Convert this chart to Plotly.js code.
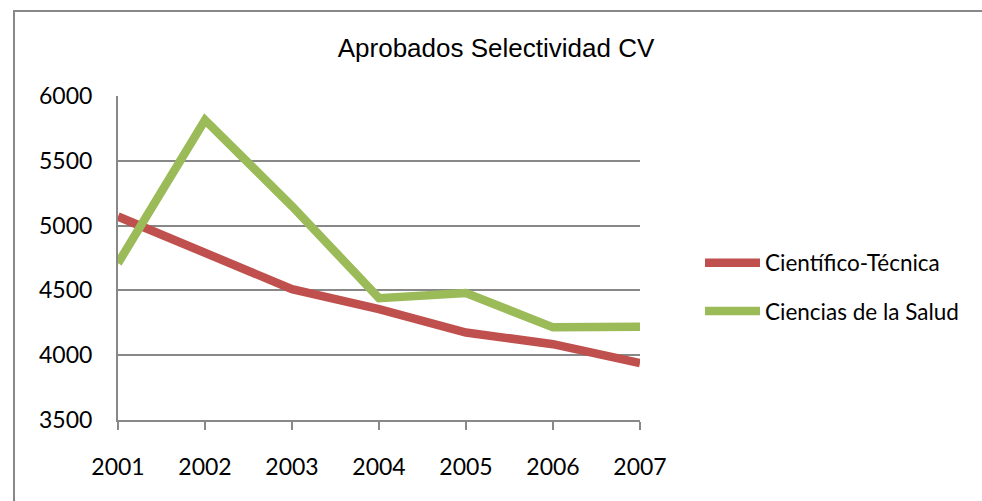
<!DOCTYPE html>
<html>
<head>
<meta charset="utf-8">
<script src="https://cdn.plot.ly/plotly-3.0.1.min.js"></script>
<style>html,body{margin:0;padding:0;background:#fff;}#chart{width:982px;height:501px;}</style>
</head>
<body>
<div id="chart"></div>
<script>
const years = ['2001','2002','2003','2004','2005','2006','2007'];
const cientificoTecnica = [5070, 4785, 4510, 4355, 4175, 4085, 3940];
const cienciasSalud = [4710, 5815, 5150, 4440, 4480, 4215, 4220];
const seriesNames = ['Científico-Técnica', 'Ciencias de la Salud'];
const yTicks = [3500, 4000, 4500, 5000, 5500, 6000];

const L = 118, R = 640, T = 96, B = 420, W = 982, H = 501;
const pw = R - L, ph = B - T;
const px = v => (v - L) / pw;
const py = v => (B - v) / ph;

const traces = [
  {x: years, y: cientificoTecnica, name: seriesNames[0], type: 'scatter', mode: 'lines',
   line: {color: '#C0504D', width: 8.5}, legendgroup: 'a'},
  {x: years, y: cienciasSalud, name: seriesNames[1], type: 'scatter', mode: 'lines',
   line: {color: '#9BBB59', width: 8.5}, legendgroup: 'b'}
];

const tickFont = {family: 'Lato, "Open Sans", sans-serif', size: 23, color: '#000'};

const layout = {
  width: W, height: H,
  margin: {l: L, r: W - R, t: T, b: H - B, pad: 0},
  paper_bgcolor: '#fff', plot_bgcolor: '#fff',
  showlegend: true,
  title: {text: 'Aprobados Selectividad CV', font: {family: '"Liberation Sans", Arial, sans-serif', size: 26, color: '#000'},
          x: 496/W, xanchor: 'center', y: 1 - 48/H, yanchor: 'middle', xref: 'container', yref: 'container'},
  xaxis: {type: 'category', range: [0, 6], showgrid: false, zeroline: false,
          showline: true, linecolor: '#888', linewidth: 2,
          ticks: 'outside', ticklen: 8, tickwidth: 2, tickcolor: '#888',
          tickfont: tickFont, ticklabelstandoff: 17, fixedrange: true},
  yaxis: {range: [3500, 6000], tickvals: yTicks, ticktext: yTicks.map(String),
          showgrid: true, gridcolor: '#888', gridwidth: 2, zeroline: false,
          showline: true, linecolor: '#888', linewidth: 2, ticks: '',
          tickfont: tickFont, ticklabelstandoff: 19, fixedrange: true},
  legend: {x: px(700), y: py(287), xanchor: 'left', yanchor: 'middle',
           font: {family: 'Lato, "Open Sans", sans-serif', size: 22.5, color: '#000'},
           traceorder: 'grouped', tracegroupgap: 16, itemwidth: 55, bgcolor: 'rgba(0,0,0,0)'},
  shapes: [
    {type: 'rect', xref: 'paper', yref: 'paper', x0: px(14), x1: px(990), y0: py(11), y1: py(520),
     line: {color: '#888', width: 2}, fillcolor: 'rgba(0,0,0,0)', layer: 'below'}
  ]
};

Plotly.newPlot('chart', traces, layout, {displayModeBar: false, staticPlot: true});
</script>
</body>
</html>
